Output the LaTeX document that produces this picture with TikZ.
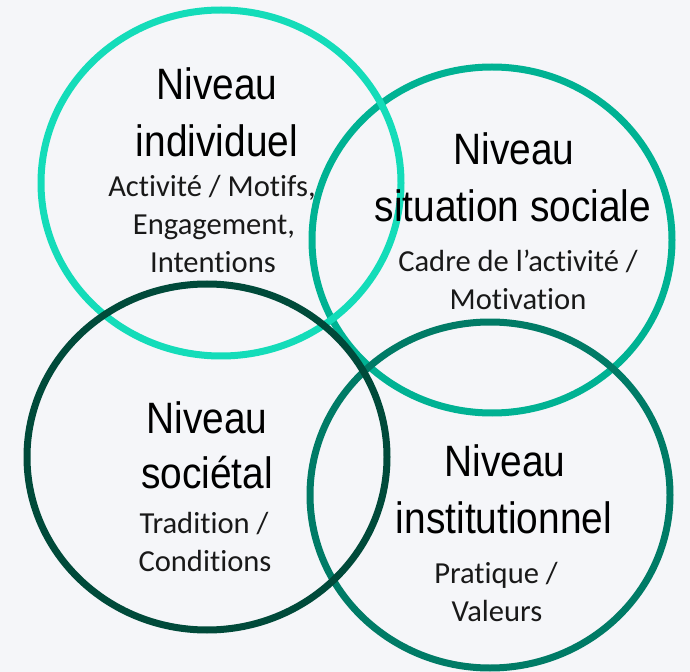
\documentclass[tikz,border=0pt]{standalone}
\usepackage{fontspec}
\setmainfont[RawFeature={-liga;-clig;-calt;-dlig;-rlig}]{Carlito}
\newfontfamily\headfont[FakeStretch=0.885]{Liberation Sans}
\definecolor{bgcol}{HTML}{F5F6F9}
\definecolor{ringA}{HTML}{14DCB9}
\definecolor{ringB}{HTML}{00B293}
\definecolor{ringC}{HTML}{004A3A}
\definecolor{ringD}{HTML}{007B66}
\tikzstyle{ring}=[line width=0.14cm]
\tikzstyle{head}=[anchor=base,inner sep=0,font=\headfont\fontsize{25}{30}\selectfont]
\tikzstyle{sub}=[anchor=base,inner sep=0,text=black!90,font=\fontsize{17.4}{21}\selectfont]
\def\rx{180}
\def\ry{173}

\begin{document}
\begin{tikzpicture}[x=0.02cm,y=-0.02cm]
        \fill[bgcol] (0,0) rectangle (690,672);
        \useasboundingbox (0,0) rectangle (690,672);
        
        \coordinate (C1) at (221,183);
        \coordinate (C2) at (492,240);
        \coordinate (C3) at (207,457);
        \coordinate (C4) at (490,495);
        
        \draw[ring,ringB] (C2) ellipse [x radius=\rx,y radius=\ry];
        \draw[ring,ringA] (C1) ellipse [x radius=\rx,y radius=\ry];
        \draw[ring,ringD] (C4) ellipse [x radius=\rx,y radius=\ry];
        \draw[ring,ringC] (C3) ellipse [x radius=\rx,y radius=\ry];
        
        % individuel
        \node[head] (ind1) at (217,100) {Niveau};
        \node[head] (ind2) at (217,157) {individuel};
        \node[sub] (ind3) at (212,197) {Activité / Motifs,};
        \node[sub] (ind4) at (214,235) {Engagement,};
        \node[sub] (ind5) at (213,273) {Intentions};
        
        % situation sociale
        \node[head] (sit1) at (514,165) {Niveau};
        \node[head] (sit2) at (513,222) {situation sociale};
        \node[sub] (sit3) at (518,272) {Cadre de l’activité /};
        \node[sub] (sit4) at (518,310) {Motivation};
        
        % societal
        \node[head] (soc1) at (207,433) {Niveau};
        \node[head] (soc2) at (207,488) {sociétal};
        \node[sub] (soc3) at (204,533) {Tradition /};
        \node[sub] (soc4) at (205,571) {Conditions};
        
        % institutionnel
        \node[head] (ins1) at (505,476) {Niveau};
        \node[head] (ins2) at (504,533) {institutionnel};
        \node[sub] (ins3) at (496,583) {Pratique /};
        \node[sub] (ins4) at (497,621) {Valeurs};
    \end{tikzpicture}
\end{document}
